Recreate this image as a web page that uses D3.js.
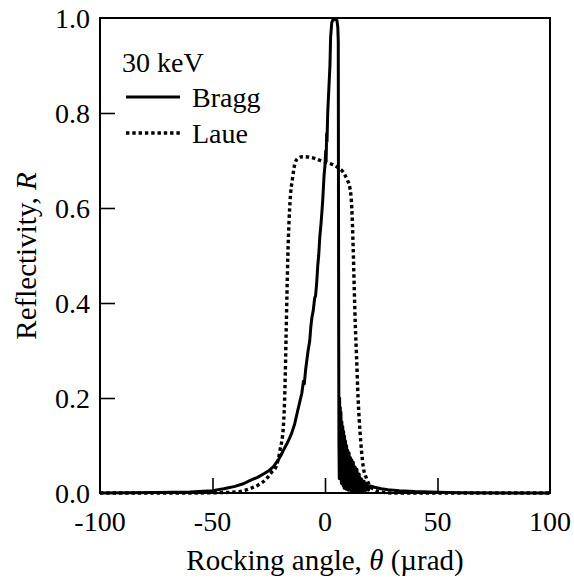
<!DOCTYPE html>
<html>
<head>
<meta charset="utf-8">
<script src="https://cdn.jsdelivr.net/npm/d3@7"></script>
<style>
  body { margin: 0; background: #fff; }
  svg { display: block; }
  svg text { font-family: "Liberation Serif", "DejaVu Serif", "Noto Serif", Tinos, FreeSerif, "Nimbus Roman", "Nimbus Roman No9 L", "Times New Roman", Times, serif; }
</style>
</head>
<body>
<div id="chart"></div>
<script>
/* Rocking curve, 30 keV — Bragg vs Laue reflectivity */

// ─── Data ───
const xTicks = [-100, -50, 0, 50, 100];
const yTicks = [0.0, 0.2, 0.4, 0.6, 0.8, 1.0];

// Bragg: noisy rising tail, flat top near 4 µrad, sharp drop with ringing
const braggTheta = [
  -100, -75, -60, -50, -45, -40, -36, -33, -30, -27, -25, -23, -21, -19.5, -18.5,
  -17, -15.8, -14.8, -13.5, -12.3, -11, -10.3, -9.6, -9.2, -8.6, -7.5, -6.8, -6.3,
  -5.8, -5.2, -4.6, -4.2, -3.7, -3.2, -2.8, -2.3, -1.8, -1.4, -1, -0.4, 0, 0.3, 0.5,
  0.74, 0.9, 1.2, 1.7, 2.2, 2.5, 3, 3.5, 4.5, 5.3, 5.7, 5.9, 6.0, 6.1, 6.2, 6.35,
  6.5, 6.65, 6.8, 6.95, 7.1, 7.3, 7.5, 7.7, 7.9, 8.1, 8.3, 8.5, 8.7, 8.9, 9.1, 9.35,
  9.6, 9.85, 10.1, 10.4, 10.7, 11.0, 11.3, 11.6, 11.9, 12.2, 12.6, 13.0, 13.4, 13.8,
  14.2, 14.7, 15.2, 15.7, 16.2, 16.8, 17.4, 18, 18.6, 19.3, 20, 22, 25, 28, 33, 40,
  50, 60, 100
];
const braggR = [
  0, 0.001, 0.002, 0.005, 0.009, 0.014, 0.02, 0.027, 0.033, 0.041, 0.047, 0.055, 0.068, 0.08, 0.09,
  0.103, 0.115, 0.126, 0.145, 0.17, 0.196, 0.21, 0.235, 0.23, 0.26, 0.30, 0.32, 0.35,
  0.37, 0.385, 0.41, 0.415, 0.442, 0.48, 0.5, 0.54, 0.565, 0.59, 0.617, 0.67, 0.69, 0.72, 0.7,
  0.757, 0.74, 0.8, 0.85, 0.9, 0.96, 0.99, 0.996, 0.997, 0.995, 0.98, 0.95, 0.6, 0.3, 0.1, 0.03,
  0.2, 0.04, 0.18, 0.03, 0.17, 0.02, 0.15, 0.02, 0.14, 0.015, 0.13, 0.01, 0.12, 0.01, 0.11, 0.008,
  0.1, 0.008, 0.09, 0.006, 0.085, 0.006, 0.075, 0.005, 0.07, 0.005, 0.065, 0.005, 0.055, 0.005,
  0.05, 0.004, 0.04, 0.004, 0.03, 0.004, 0.025, 0.005, 0.02, 0.006, 0.015, 0.012, 0.009, 0.007, 0.005, 0.003,
  0.0015, 0.0005, 0
];

// Laue: broad flat-topped curve, ~0.71 plateau
const laueTheta = [
  -100, -60, -45, -38, -33, -30, -26, -23.5, -21.8, -20, -18.5, -17.8, -17.3, -16.9,
  -16.5, -15.5, -14.5, -13.3, -12, -10, -7, -5, -2, 0, 2, 4, 6, 8, 9, 10, 11, 11.9,
  12.5, 13, 13.5, 14, 14.7, 15.6, 16.3, 17, 18.5, 20, 22, 25, 30, 40, 100
];
const laueR = [
  0, 0, 0.001, 0.003, 0.01, 0.016, 0.03, 0.045, 0.055, 0.09, 0.14, 0.22, 0.33, 0.42,
  0.5, 0.617, 0.66, 0.695, 0.705, 0.708, 0.707, 0.705, 0.7, 0.697, 0.694, 0.69, 0.684, 0.676, 0.668, 0.658, 0.644, 0.6,
  0.52, 0.43, 0.35, 0.29, 0.2, 0.126, 0.085, 0.055, 0.03, 0.015, 0.007, 0.002, 0, 0, 0
];

const legendLabels = ["Bragg", "Laue"];

// ─── Layout ───
const width = 574, height = 581;
const plot = { left: 100, right: 550, top: 18, bottom: 493 };

const svg = d3.select("#chart")
  .append("svg")
  .attr("width", width)
  .attr("height", height)
  .style("background", "#fff");

const x = d3.scaleLinear().domain([-100, 100]).range([plot.left, plot.right]);
const y = d3.scaleLinear().domain([0, 1]).range([plot.bottom, plot.top]);

// Inward ticks on bottom and left, labels drawn separately
const xAxis = d3.axisTop(x).tickValues(xTicks.slice(1, -1)).tickSize(15).tickFormat("");
const yAxis = d3.axisRight(y).tickValues(yTicks.slice(1, -1)).tickSize(15).tickFormat("");

svg.append("g")
  .attr("transform", `translate(0,${plot.bottom})`)
  .call(xAxis)
  .call(g => g.select(".domain").remove())
  .selectAll("line").attr("stroke", "#000").attr("stroke-width", 1.6);

svg.append("g")
  .attr("transform", `translate(${plot.left},0)`)
  .call(yAxis)
  .call(g => g.select(".domain").remove())
  .selectAll("line").attr("stroke", "#000").attr("stroke-width", 1.6);

// Frame
svg.append("rect")
  .attr("x", plot.left)
  .attr("y", plot.top)
  .attr("width", plot.right - plot.left)
  .attr("height", plot.bottom - plot.top)
  .attr("fill", "none")
  .attr("stroke", "#000")
  .attr("stroke-width", 2);

// Tick labels
svg.append("g")
  .selectAll("text")
  .data(xTicks)
  .join("text")
  .attr("x", d => x(d))
  .attr("y", plot.bottom + 38)
  .attr("text-anchor", "middle")
  .attr("font-size", 28)
  .text(d => d);

svg.append("g")
  .selectAll("text")
  .data(yTicks)
  .join("text")
  .attr("x", plot.left - 10)
  .attr("y", d => y(d) + 10)
  .attr("text-anchor", "end")
  .attr("font-size", 28)
  .text(d => d.toFixed(1));

// Axis titles
const xTitle = svg.append("text")
  .attr("x", (plot.left + plot.right) / 2)
  .attr("y", 570)
  .attr("text-anchor", "middle")
  .attr("font-size", 29);
xTitle.append("tspan").text("Rocking angle, ");
xTitle.append("tspan").attr("font-style", "italic").text("θ");
xTitle.append("tspan").text(" (µrad)");

const yTitle = svg.append("text")
  .attr("transform", "translate(36,256) rotate(-90)")
  .attr("text-anchor", "middle")
  .attr("font-size", 29);
yTitle.append("tspan").text("Reflectivity, ");
yTitle.append("tspan").attr("font-style", "italic").text("R");

// ─── Curves ───
const bragg = d3.zip(braggTheta, braggR);
const laue = d3.zip(laueTheta, laueR);

const line = d3.line().x(d => x(d[0])).y(d => y(d[1]));
const smooth = d3.line().x(d => x(d[0])).y(d => y(d[1])).curve(d3.curveMonotoneX);

svg.append("path")
  .datum(laue)
  .attr("d", smooth)
  .attr("fill", "none")
  .attr("stroke", "#000")
  .attr("stroke-width", 3.4)
  .attr("stroke-dasharray", "3.4,2.9");

svg.append("path")
  .datum(bragg)
  .attr("d", line)
  .attr("fill", "none")
  .attr("stroke", "#000")
  .attr("stroke-width", 3)
  .attr("stroke-linejoin", "round");

// ─── Legend ───
svg.append("text")
  .attr("x", 122)
  .attr("y", 72)
  .attr("font-size", 28)
  .text("30 keV");

const legend = svg.append("g")
  .selectAll("g")
  .data(legendLabels)
  .join("g")
  .attr("transform", (d, i) => `translate(0,${97 + i * 36})`);

legend.append("line")
  .attr("x1", 126)
  .attr("x2", 180)
  .attr("stroke", "#000")
  .attr("stroke-width", (d, i) => i ? 3.4 : 3)
  .attr("stroke-dasharray", (d, i) => i ? "3.4,2.9" : null);

legend.append("text")
  .attr("x", 192)
  .attr("y", 10)
  .attr("font-size", 28)
  .text(d => d);
</script>
</body>
</html>
